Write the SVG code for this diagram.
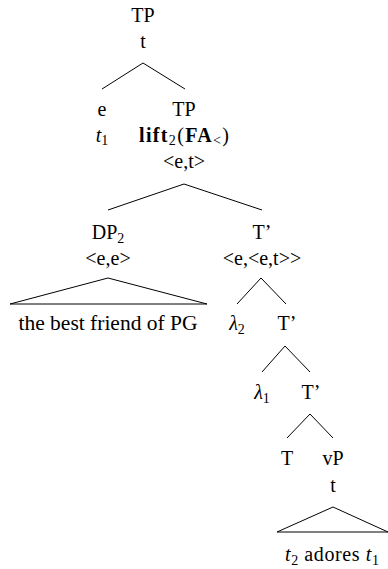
<svg xmlns="http://www.w3.org/2000/svg" width="388" height="569" viewBox="0 0 388 569">
<style>
text{font-family:"Liberation Serif","Times New Roman",serif;font-size:20px;fill:#000;text-anchor:middle}
.sub{font-size:14px}
.it{font-style:italic}
.b{font-weight:bold}
.ln{stroke:#000;stroke-width:1;fill:none}
</style>
<rect width="388" height="569" fill="#fff"/>
<g id="connectors">
<polyline class="ln" points="102,89 143,63 185,89"/>
<polyline class="ln" points="108,210 184,184 262,210"/>
<polygon class="ln" points="108,278 10,304 207,304"/>
<polyline class="ln" points="237,304 261,278 286,304"/>
<polyline class="ln" points="262,372 285,346 310,372"/>
<polyline class="ln" points="287,438 310,414 333,438"/>
<polygon class="ln" points="333,507 277,532 388,532"/>
</g>
<g id="n-root"><text x="143" y="22">TP</text><text x="143" y="48">t</text></g>
<g id="n-e"><text x="102" y="116">e</text><text x="102" y="142"><tspan class="it">t</tspan><tspan class="sub" dy="3">1</tspan></text></g>
<g id="n-tp"><text x="184" y="116">TP</text><text x="184" y="142" textLength="90" lengthAdjust="spacing"><tspan class="b">lift</tspan><tspan class="sub" dy="3">2</tspan><tspan dy="-3">(</tspan><tspan class="b">FA</tspan><tspan class="sub" dy="3">&lt;</tspan><tspan dy="-3">)</tspan></text><text x="184" y="168">&lt;e,t&gt;</text></g>
<g id="n-dp"><text x="108" y="239">DP<tspan class="sub" dy="4">2</tspan></text><text x="108" y="265">&lt;e,e&gt;</text><text x="108" y="330" textLength="179" lengthAdjust="spacingAndGlyphs">the best friend of PG</text></g>
<g id="n-t1"><text x="262" y="239">T’</text><text x="262" y="265">&lt;e,&lt;e,t&gt;&gt;</text></g>
<g id="n-l2"><text x="237" y="330"><tspan class="it">λ</tspan><tspan class="sub" dy="4">2</tspan></text></g>
<g id="n-t2"><text x="287" y="330">T’</text></g>
<g id="n-l1"><text x="262" y="399"><tspan class="it">λ</tspan><tspan class="sub" dy="4">1</tspan></text></g>
<g id="n-t3"><text x="311" y="399">T’</text></g>
<g id="n-T"><text x="287" y="465">T</text></g>
<g id="n-vp"><text x="333" y="465">vP</text><text x="333" y="492">t</text><text x="332" y="561" textLength="94" lengthAdjust="spacing"><tspan class="it">t</tspan><tspan class="sub" dy="4">2</tspan><tspan dy="-4"> adores </tspan><tspan class="it">t</tspan><tspan class="sub" dy="4">1</tspan></text></g>
</svg>
